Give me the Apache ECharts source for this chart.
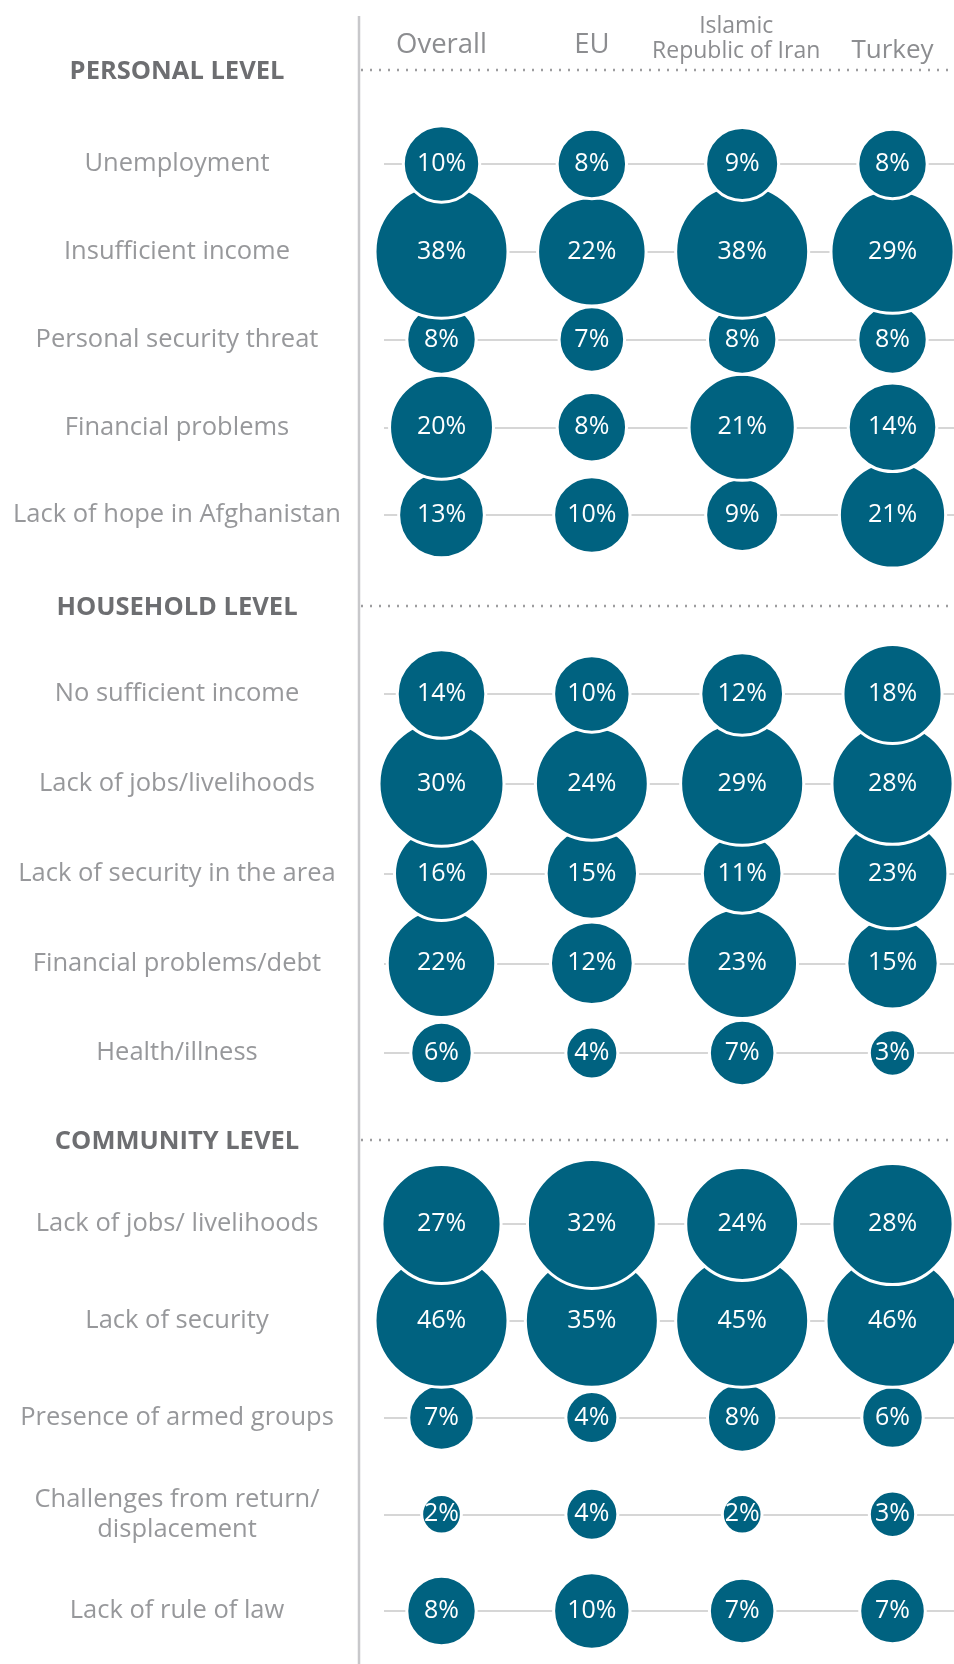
<!DOCTYPE html>
<html>
<head>
<meta charset="utf-8">
<title>Drivers of migration</title>
<script src="https://cdn.jsdelivr.net/npm/echarts@6/dist/echarts.min.js"></script>
<style>
  html, body { margin: 0; padding: 0; background: #fff; }
  #main { width: 954px; height: 1664px; }
</style>
</head>
<body>
<div id="main"></div>
<script>
// columns and section headers
var columnNames = ["Overall", "EU", "Islamic Republic of Iran", "Turkey"];
var sectionTitles = ["PERSONAL LEVEL", "HOUSEHOLD LEVEL", "COMMUNITY LEVEL"];

// row labels per section
var personalRows = ["Unemployment", "Insufficient income", "Personal security threat",
  "Financial problems", "Lack of hope in Afghanistan"];
var householdRows = ["No sufficient income", "Lack of jobs/livelihoods",
  "Lack of security in the area", "Financial problems/debt", "Health/illness"];
var communityRows = ["Lack of jobs/ livelihoods", "Lack of security", "Presence of armed groups",
  "Challenges from return/\ndisplacement", "Lack of rule of law"];

// values (%) per row: Overall, EU, Iran, Turkey
var personalValues = [
  [10, 8, 9, 8],
  [38, 22, 38, 29],
  [8, 7, 8, 8],
  [20, 8, 21, 14],
  [13, 10, 9, 21]
];
var householdValues = [
  [14, 10, 12, 18],
  [30, 24, 29, 28],
  [16, 15, 11, 23],
  [22, 12, 23, 15],
  [6, 4, 7, 3]
];
var communityValues = [
  [27, 32, 24, 28],
  [46, 35, 45, 46],
  [7, 4, 8, 6],
  [2, 4, 2, 3],
  [8, 10, 7, 7]
];

var sections = [
  { title: sectionTitles[0], rows: personalRows, values: personalValues, top: 164, bottom: 1149, headY: 71 },
  { title: sectionTitles[1], rows: householdRows, values: householdValues, top: 694, bottom: 611, headY: 607 },
  { title: sectionTitles[2], rows: communityRows, values: communityValues, top: 1224, bottom: 53, headY: 1141 }
];

var FONT = "'Open Sans', 'Noto Sans', sans-serif";
var BLUE = "#006280";

var grids = [], xAxes = [], yAxes = [], series = [], graphics = [];

graphics.push({
  type: "line", silent: true,
  shape: { x1: 359, y1: 16, x2: 359, y2: 1664 },
  style: { stroke: "#c8c8cb", lineWidth: 2.5 }
});

sections.forEach(function (sec, i) {
  grids.push({ left: 384, right: 0, top: sec.top, bottom: sec.bottom });

  var xa = {
    gridIndex: i, type: "value", min: -0.3825, max: 3.409,
    show: i === 0, position: "top",
    axisLine: { show: false }, axisTick: { show: false }, splitLine: { show: false }
  };
  if (i === 0) {
    xa.axisLabel = {
      customValues: [0, 1, 2, 3],
      margin: 100,
      color: "#8c8d90",
      fontFamily: FONT,
      formatter: function (v) {
        var name = columnNames[v];
        if (v === 2) return "{s|Islamic}\n{s|Republic of Iran}";
        if (v === 3) return "{t|" + name + "}";
        return "{a|" + name + "}";
      },
      rich: {
        a: { fontSize: 27.5, fontFamily: FONT, color: "#8c8d90", padding: [0, 0, 5, 0] },
        t: { fontSize: 26, fontFamily: FONT, color: "#8c8d90" },
        s: { fontSize: 23, fontFamily: FONT, color: "#8c8d90", lineHeight: 25, padding: [0, 12, 0, 0] }
      }
    };
  }
  xAxes.push(xa);

  yAxes.push({
    gridIndex: i, type: "category", data: sec.rows, inverse: true, boundaryGap: false,
    axisLine: { show: false }, axisTick: { show: false },
    splitLine: { show: true, interval: 0, lineStyle: { color: "#d6d6d6", width: 2 } },
    axisLabel: {
      interval: 0, margin: 207, align: "center",
      color: "#97989b", fontSize: 25.5, lineHeight: 30, fontFamily: FONT
    }
  });

  // upper rows sit on top of lower rows where bubbles overlap
  var data = [];
  for (var r = sec.rows.length - 1; r >= 0; r--) {
    sec.values[r].forEach(function (v, c) {
      data.push([c, sec.rows[r], v]);
    });
  }
  series.push({
    type: "scatter", xAxisIndex: i, yAxisIndex: i, data: data,
    symbol: "circle",
    symbolSize: function (val) { return Math.min(133, 21 * Math.sqrt(val[2]) + 10); },
    itemStyle: { color: BLUE, borderColor: "#fff", borderWidth: 3, opacity: 1 },
    label: {
      show: true, position: "inside", color: "#fff", fontSize: 25, fontFamily: FONT,
      formatter: function (p) { return p.value[2] + "%"; }
    },
    emphasis: { disabled: true }
  });

  graphics.push({
    type: "line", silent: true,
    shape: { x1: 361, y1: sec.headY - 1, x2: 954, y2: sec.headY - 1 },
    style: { stroke: "#9d9d9f", lineWidth: 2.5, lineDash: [2, 7] }
  });
  graphics.push({
    type: "text", silent: true, x: 177, y: sec.headY + 1,
    style: {
      text: sec.title, align: "center", verticalAlign: "middle",
      font: "bold 25.5px " + FONT, fill: "#6d6e71"
    }
  });
});

var chart = echarts.init(document.getElementById("main"), null, { renderer: "canvas" });
chart.setOption({
  animation: false,
  backgroundColor: "#fff",
  grid: grids,
  xAxis: xAxes,
  yAxis: yAxes,
  series: series,
  graphic: graphics
});
</script>
</body>
</html>
